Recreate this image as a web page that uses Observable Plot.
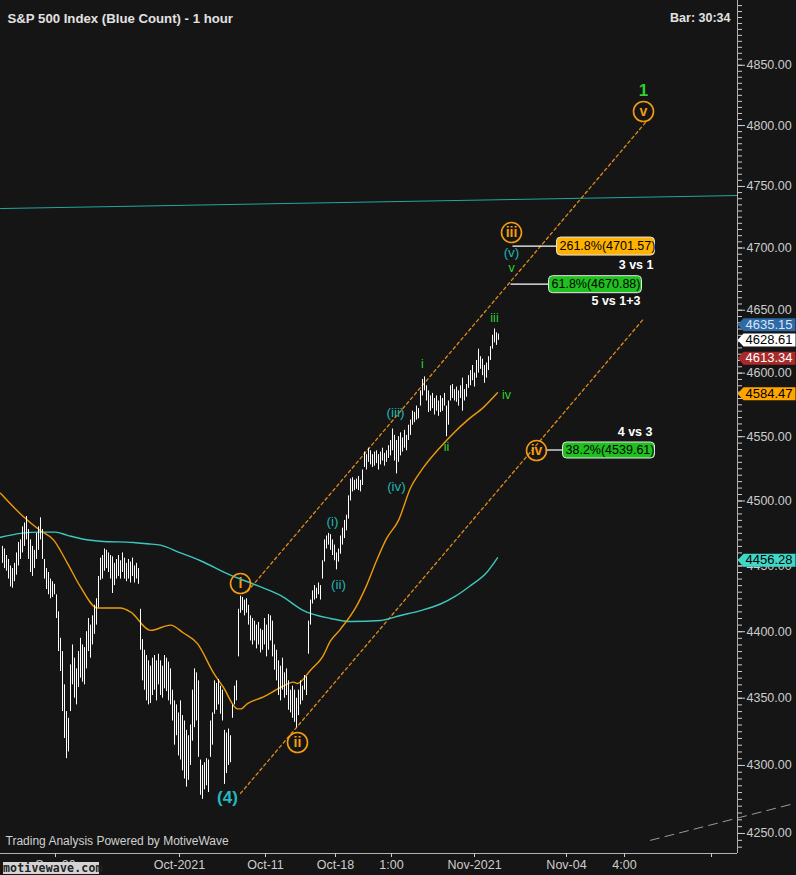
<!DOCTYPE html>
<html><head><meta charset="utf-8">
<script src="https://cdn.jsdelivr.net/npm/d3@7"></script>
<script src="https://cdn.jsdelivr.net/npm/@observablehq/plot@0.6"></script>
<style>
html,body{margin:0;padding:0;background:#151515;}
#wrap{position:relative;width:796px;height:875px;}
#logo{position:absolute;left:3px;top:862px;width:96px;height:12px;background:#d4d4d4;color:#222;
font:bold 11.5px "DejaVu Sans Mono",monospace;line-height:12px;text-align:center;letter-spacing:0.2px;}
</style>
</head><body><div id="wrap"><div id="chart"></div><div id="logo"></div></div>
<script>
// ---------- DATA ----------
const title = "S&P 500 Index (Blue Count) - 1 hour";
const barTimer = "Bar: 30:34";
const footer = "Trading Analysis Powered by MotiveWave";
const logo = "motivewave.com";

// hourly bars (index 1..249), highs and lows
const barHigh = [4465,4463,4458,4455,4450,4448,4452,4460,4468,4470,4480,4483,4488,4478,4470,4465,4462,4475,4480,4487,4478,4455,4448,4445,4440,4438,4436,
4428,4415,4395,4385,4360,4340,4335,4375,4390,4380,4372,4385,4395,4390,4388,4400,4410,4405,4412,4420,4425,4442,4456,
4458,4463,4462,4460,4458,4457,4452,4455,4458,4454,4460,4456,4452,4455,4453,4456,4450,4452,4448,
4417,4394,4386,4382,4378,4374,4380,4382,4378,4383,4378,4374,4382,4380,4377,4372,4356,4348,4345,4339,4348,4337,4333,4326,4322,4330,4356,4372,4369,4363,
4304,4300,4302,4305,4304,4333,4339,4363,4361,4364,4359,4356,4326,4324,4327,4322,4345,4359,4363,4417,4427,4426,4424,4425,4420,4412,4410,4408,4405,4407,
4402,4401,4410,4405,4413,4412,4408,4390,4386,4378,4374,4380,4369,4372,4363,4356,4359,4356,4350,4356,4363,4359,4367,4366,4408,4424,4431,4435,4433,4437,
4435,4454,4470,4473,4475,4474,4470,4466,4460,4463,4473,4479,4485,4489,4504,4517,4518,4516,4517,4519,4516,4524,4538,4536,4541,4539,4536,4538,4539,4536,
4538,4541,4537,4539,4543,4547,4556,4551,4547,4550,4553,4549,4555,4551,4559,4563,4570,4569,4574,4572,4586,4595,4597,4590,4586,4582,4584,4580,4582,4578,
4582,4580,4584,4574,4578,4590,4591,4587,4589,4586,4590,4596,4587,4591,4598,4602,4606,4600,4610,4619,4613,4611,4606,4608,4613,4621,4630,4635,4632,4631];
const barLow = [4452,4448,4446,4440,4434,4433,4438,4443,4450,4455,4460,4465,4470,4455,4445,4442,4448,4455,4462,4470,4455,4440,4432,4428,4425,4426,4428,
4410,4385,4370,4340,4320,4305,4310,4340,4360,4350,4345,4358,4365,4362,4360,4372,4385,4380,4390,4398,4405,4418,4439,
4440,4446,4448,4445,4440,4429,4435,4440,4442,4440,4445,4440,4438,4440,4437,4442,4437,4440,4436,
4386,4363,4356,4348,4345,4346,4352,4356,4348,4360,4352,4350,4357,4355,4348,4345,4333,4315,4322,4307,4304,4296,4290,4284,4289,4300,4318,4328,4333,4306,
4278,4275,4282,4285,4280,4306,4315,4338,4341,4345,4338,4333,4286,4294,4300,4302,4335,4345,4348,4381,4414,4416,4412,4414,4405,4393,4390,4393,4387,4390,
4384,4386,4390,4381,4386,4393,4381,4371,4363,4352,4348,4356,4350,4352,4341,4339,4335,4332,4328,4337,4345,4348,4356,4352,4383,4405,4421,4424,4425,4428,
4424,4440,4453,4463,4466,4462,4458,4454,4447,4453,4459,4466,4471,4477,4486,4500,4507,4508,4509,4508,4507,4512,4526,4524,4530,4528,4526,4527,4529,4524,
4528,4531,4527,4530,4533,4535,4539,4531,4521,4530,4535,4538,4541,4539,4547,4551,4559,4561,4563,4564,4574,4582,4586,4578,4569,4570,4572,4567,4570,4566,
4569,4570,4574,4550,4559,4578,4580,4578,4577,4574,4580,4570,4578,4581,4588,4590,4594,4589,4596,4600,4603,4598,4592,4596,4602,4610,4619,4624,4622,4626];

// moving averages: [bar index, price]
const orangeMA = [[0,4506],[10,4490],[20,4477],[26.5,4470],[33.5,4452],[40,4434],[48.5,4418],[60,4418],[65,4415],[75,4401],[85,4405],[91.5,4399],[98.5,4391],
[106.5,4369],[111.5,4358],[118.5,4342],[120,4342],[123.5,4346],[131.5,4351],[140,4358],[146.5,4362],[148.5,4361],[155,4371],[161,4381],[165,4393],[170,4402],
[177.5,4418],[183,4435],[188,4454],[193,4471],[199,4485],[205,4510],[211.5,4526],[220,4542],[226,4552],[233.5,4563],[241.5,4573],[248.5,4584.47]];
const tealMA = [[0,4472],[10,4475],[20,4476],[27.5,4476],[33.5,4473.5],[41.5,4470.5],[50,4469],[66.5,4468],[73.5,4467],[80,4466],[90,4460],[100,4454],
[115,4443],[128.5,4435],[140,4427.5],[151.5,4416],[165,4410],[175,4407.7],[190,4408.5],[200,4412.3],[210,4416],[220,4421],[227.5,4427],[235,4435],
[242.5,4444],[248.5,4456.28]];

// trend / channel lines: [bar index, price]
const trendLine = [[0,4732],[368.5,4742.6]];
const channelUpper = [[123.5,4430.5],[322.5,4802.5]];
const channelLower = [[120,4279.4],[321.5,4643]];
const grayLine = [[325,4245],[397,4272]];

// wave labels
const circleWaves = [{t:"i",x:120,p:4436.6},{t:"ii",x:148.5,p:4317},{t:"iii",x:255.5,p:4712.5},{t:"iv",x:268,p:4539.2},{t:"v",x:321.5,p:4811.6}];
const tealWaves = [{t:"(i)",x:166,p:4484},{t:"(ii)",x:169,p:4436},{t:"(iii)",x:197.5,p:4569},{t:"(iv)",x:198,p:4511},{t:"(v)",x:255.5,p:4696.4}];
const greenWaves = [{t:"i",x:211,p:4607.6},{t:"ii",x:223,p:4541.6},{t:"iii",x:247,p:4643.4},{t:"iv",x:253,p:4582.4},{t:"v",x:255.5,p:4683.5}];
const bigWaves = [{t:"(4)",x:113.5,p:4276.3,c:"teal"},{t:"1",x:321.5,p:4829,c:"green"}];

// fibonacci targets
const fibLevels = [4701.57, 4670.88, 4539.61];
const fibPct = ["261.8%", "61.8%", "38.2%"];
const fibLineStart = [256, 255, 272.5];
const fibBoxStart = [278, 274, 281];
const fibNotes = [{t:"3 vs 1",x:326.5,p:4686},{t:"5 vs 1+3",x:320,p:4657},{t:"4 vs 3",x:326,p:4553.3}];

// axis ticks
const yTicks = [4250,4300,4350,4400,4450,4500,4550,4600,4650,4700,4750,4800,4850];
const xTickPos = [27.5, 89.5, 132.5, 167.5, 195.5, 237, 283, 312, 355.5];
const xTickLabels = ["Sep-20","Oct-2021","Oct-11","Oct-18","1:00","Nov-2021","Nov-04","4:00",""];

// price tags on the right axis
const tagValues = [4635.15, 4628.61, 4613.34, 4584.47, 4456.28];

// ---------- STYLES ----------
const tagStyle = [
  {bg:"#2f6aa3", fg:"#d6e6ff", dy:-4},
  {bg:"#ffffff", fg:"#000000", dy:3},
  {bg:"#a82a2a", fg:"#ffffff", dy:2},
  {bg:"#ffa500", fg:"#000000", dy:1},
  {bg:"#3fd8c8", fg:"#000000", dy:2.5}
];
const fibStyle = [{bg:"#ffb300", w:98, h:18},{bg:"#1fc01f", w:93, h:17},{bg:"#1fc01f", w:92, h:16}];
const ORANGE = "#f39c12", TEAL = "#22b3b3", GREEN = "#2fd12f";
const FONT = "Liberation Sans, Arial, sans-serif";

// ---------- BUILD ----------
const bars = barHigh.map((h, k) => ({i: k + 1, hi: h, lo: barLow[k]}));
const xDomain = [0, 368.5];
const yDomain = [4235.4, 4904.3];
const minorTicks = d3.range(4240, 4905, 5);
const xLabelMap = new Map(xTickPos.map((p, k) => [p, xTickLabels[k]]));
const pts = a => a.map(([x, p]) => ({x, p}));

function roundBox(w, h, r) {
  return {draw(ctx) {
    const t = -h / 2, b = h / 2;
    ctx.moveTo(r, t); ctx.lineTo(w - r, t); ctx.arcTo(w, t, w, t + r, r);
    ctx.lineTo(w, b - r); ctx.arcTo(w, b, w - r, b, r);
    ctx.lineTo(r, b); ctx.arcTo(0, b, 0, b - r, r);
    ctx.lineTo(0, t + r); ctx.arcTo(0, t, r, t, r); ctx.closePath();
  }};
}
const tagSymbol = {draw(ctx) {
  ctx.moveTo(0, 0); ctx.lineTo(6, -6.5); ctx.lineTo(58, -6.5); ctx.lineTo(58, 6.5); ctx.lineTo(6, 6.5); ctx.closePath();
}};

const fibData = fibLevels.map((v, k) => ({v, k, x1: fibLineStart[k], x2: fibBoxStart[k], label: `${fibPct[k]}(${v.toFixed(2)})`}));

const marks = [
  Plot.line(pts(trendLine), {x: "x", y: "p", stroke: "#1fa8a0", strokeWidth: 1}),
  Plot.line(pts(grayLine), {x: "x", y: "p", stroke: "#9a9a9a", strokeWidth: 1, strokeDasharray: "9,6"}),
  Plot.line(pts(channelUpper), {x: "x", y: "p", stroke: "#e08a1e", strokeWidth: 1.3, strokeDasharray: "3,3"}),
  Plot.line(pts(channelLower), {x: "x", y: "p", stroke: "#e08a1e", strokeWidth: 1.3, strokeDasharray: "3,3"}),
  Plot.line(pts(tealMA), {x: "x", y: "p", stroke: "#3cc8be", strokeWidth: 1.4, curve: "monotone-x"}),
  Plot.line(pts(orangeMA), {x: "x", y: "p", stroke: "#ee9a0a", strokeWidth: 1.4, curve: "monotone-x"}),
  Plot.ruleX(bars, {x: "i", y1: "lo", y2: "hi", stroke: "#ffffff", strokeWidth: 1}),
  // fib connectors and boxes
  Plot.link(fibData, {x1: "x1", x2: "x2", y1: "v", y2: "v", stroke: "#ffffff", strokeWidth: 1.2}),
  ...fibData.map(d => Plot.dot([d], {x: "x2", y: "v", symbol: roundBox(fibStyle[d.k].w, fibStyle[d.k].h, 4), fill: fibStyle[d.k].bg, stroke: "#e6e6e6", strokeWidth: 1})),
  Plot.text(fibData, {x: "x2", y: "v", text: "label", textAnchor: "start", dx: 3, fill: "#000", fontSize: 12.5, fontFamily: FONT}),
  Plot.text(fibNotes, {x: "x", y: "p", text: "t", textAnchor: "end", fill: "#ffffff", fontWeight: "bold", fontSize: 12.5, fontFamily: FONT}),
  // wave labels
  Plot.dot(circleWaves, {x: "x", y: "p", r: 10, stroke: ORANGE, strokeWidth: 1.6, fill: "none"}),
  Plot.text(circleWaves, {x: "x", y: "p", text: "t", fill: ORANGE, fontWeight: "bold", fontSize: 14, fontFamily: FONT}),
  Plot.text(tealWaves, {x: "x", y: "p", text: "t", fill: TEAL, fontSize: 13.5, fontFamily: FONT}),
  Plot.text(greenWaves, {x: "x", y: "p", text: "t", fill: GREEN, fontSize: 12.5, fontFamily: FONT}),
  Plot.text(bigWaves, {x: "x", y: "p", text: "t", fill: d => d.c === "teal" ? "#26b8c0" : GREEN, fontWeight: "bold", fontSize: 17, fontFamily: FONT}),
  // axes
  Plot.ruleX([xDomain[1]], {stroke: "#b0b0b0", strokeWidth: 1}),
  Plot.ruleY([yDomain[0]], {stroke: "#b0b0b0", strokeWidth: 1}),
  Plot.axisY({anchor: "right", ticks: minorTicks, tickSize: 4, fill: "none", label: null}),
  Plot.axisY({anchor: "right", ticks: yTicks, tickSize: 7, tickPadding: 2, tickFormat: d => d.toFixed(2), fontSize: 12.5, fontFamily: FONT, label: null}),
  Plot.axisX({anchor: "bottom", ticks: xTickPos, tickSize: 4, tickPadding: 3, tickFormat: d => xLabelMap.get(d), fontSize: 12.5, fontFamily: FONT, label: null}),
  // price tags
  ...tagValues.flatMap((v, k) => [
    Plot.dot([v], {y: d => d, frameAnchor: "right", symbol: tagSymbol, fill: tagStyle[k].bg, dy: tagStyle[k].dy}),
    Plot.text([v], {y: d => d, frameAnchor: "right", text: d => d.toFixed(2), textAnchor: "start", dx: 8, dy: tagStyle[k].dy, fill: tagStyle[k].fg, fontSize: 13, fontFamily: FONT})
  ]),
  // titles / footer
  Plot.text([title], {frameAnchor: "top-left", text: d => d, textAnchor: "start", dx: 7, dy: 13, fill: "#e2e2e2", fontWeight: "bold", fontSize: 13.2, fontFamily: FONT}),
  Plot.text([barTimer], {frameAnchor: "top-right", text: d => d, textAnchor: "end", dx: -7, dy: 13, fill: "#e2e2e2", fontWeight: "bold", fontSize: 12.5, fontFamily: FONT}),
  Plot.text([footer], {frameAnchor: "bottom-left", text: d => d, textAnchor: "start", dx: 5, dy: -9, fill: "#d0d0d0", fontSize: 12, fontFamily: FONT})
];

const chart = Plot.plot({
  width: 796, height: 875,
  marginLeft: 0, marginRight: 59, marginTop: 0, marginBottom: 22,
  style: {background: "#151515", color: "#cccccc", fontFamily: FONT, fontSize: "12px"},
  x: {domain: xDomain, axis: null},
  y: {type: "log", domain: yDomain, axis: null},
  color: {type: "identity"},
  marks
});
document.getElementById("chart").appendChild(chart);
document.getElementById("logo").textContent = logo;
</script></body></html>
